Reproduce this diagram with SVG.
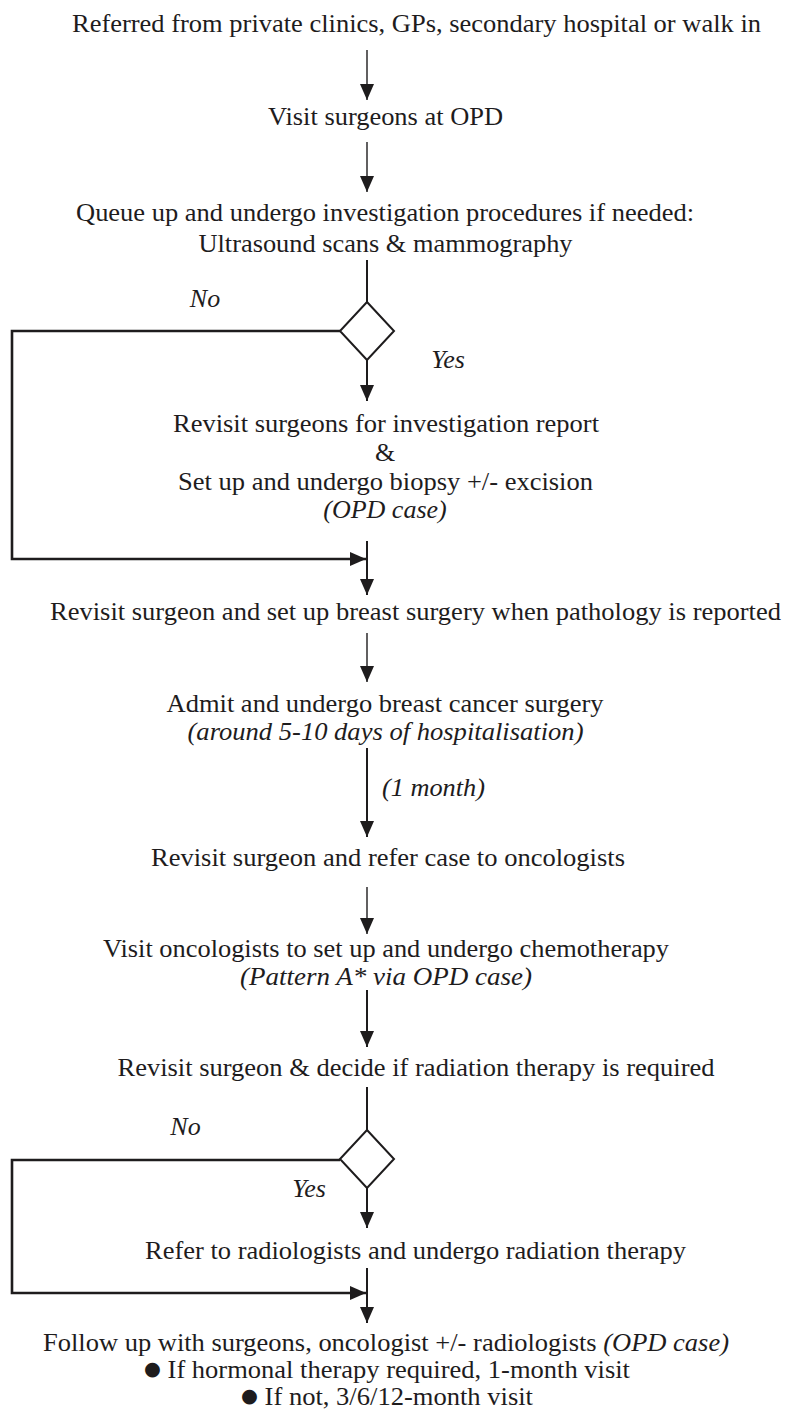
<svg xmlns="http://www.w3.org/2000/svg" width="788" height="1414" viewBox="0 0 788 1414">
  <style>
    text { font-family: "Liberation Serif", "Times New Roman", serif; font-size: 26px; fill: #1e1c1d; text-anchor: middle; }
    .it { font-style: italic; }
    .thin { stroke: #1e1c1d; stroke-width: 1.4; fill: none; }
    .thick { stroke: #1e1c1d; stroke-width: 2; fill: none; }
    .loop { stroke: #1e1c1d; stroke-width: 2.6; fill: none; }
    .dia { stroke: #1e1c1d; stroke-width: 2; fill: #ffffff; }
    .bullet { font-family: "DejaVu Sans", sans-serif; font-size: 19px; }
  </style>
  <defs>
    <marker id="arrow" markerUnits="userSpaceOnUse" markerWidth="17" markerHeight="16" refX="16" refY="7" orient="auto">
      <path d="M0,0 L16,7 L0,14 Z" fill="#1e1c1d"/>
    </marker>
  </defs>

  <rect width="788" height="1414" fill="#ffffff"/>

  <!-- connectors -->
  <g id="connectors">
    <line class="thin" x1="367" y1="50" x2="367" y2="100" marker-end="url(#arrow)"/>
    <line class="thin" x1="367" y1="142" x2="367" y2="192" marker-end="url(#arrow)"/>
    <line class="thick" x1="367" y1="260" x2="367" y2="302"/>
    <line class="thick" x1="367" y1="360" x2="367" y2="401" marker-end="url(#arrow)"/>
    <polyline class="loop" points="340,331 12,331 12,559 366,559" marker-end="url(#arrow)"/>
    <line class="thick" x1="367" y1="541" x2="367" y2="595" marker-end="url(#arrow)"/>
    <line class="thin" x1="367" y1="633" x2="367" y2="682" marker-end="url(#arrow)"/>
    <line class="thick" x1="367" y1="748" x2="367" y2="837" marker-end="url(#arrow)"/>
    <line class="thin" x1="367" y1="887" x2="367" y2="934" marker-end="url(#arrow)"/>
    <line class="thick" x1="367" y1="990" x2="367" y2="1047" marker-end="url(#arrow)"/>
    <line class="thick" x1="367" y1="1087" x2="367" y2="1130"/>
    <line class="thick" x1="367" y1="1188" x2="367" y2="1228" marker-end="url(#arrow)"/>
    <polyline class="loop" points="340,1160 12,1160 12,1293 366,1293" marker-end="url(#arrow)"/>
    <line class="thick" x1="367" y1="1268" x2="367" y2="1323" marker-end="url(#arrow)"/>
  </g>

  <g id="referral">
    <text x="416.5" y="32" textLength="689" lengthAdjust="spacingAndGlyphs">Referred from private clinics, GPs, secondary hospital or walk in</text>
  </g>
  <g id="visit-opd">
    <text x="385.5" y="125" textLength="235" lengthAdjust="spacingAndGlyphs">Visit surgeons at OPD</text>
  </g>
  <g id="investigation">
    <text x="385" y="221" textLength="618" lengthAdjust="spacingAndGlyphs">Queue up and undergo investigation procedures if needed:</text>
    <text x="385.5" y="252" textLength="374" lengthAdjust="spacingAndGlyphs">Ultrasound scans &amp; mammography</text>
  </g>
  <g id="decision-biopsy">
    <polygon class="dia" points="367,302 394,331 367,360 340,331"/>
    <text class="it" x="205" y="307">No</text>
    <text class="it" x="448" y="368">Yes</text>
  </g>
  <g id="biopsy">
    <text x="386" y="432" textLength="426" lengthAdjust="spacingAndGlyphs">Revisit surgeons for investigation report</text>
    <text x="385" y="461">&amp;</text>
    <text x="385.5" y="490" textLength="415" lengthAdjust="spacingAndGlyphs">Set up and undergo biopsy +/- excision</text>
    <text class="it" x="385" y="518">(OPD case)</text>
  </g>
  <g id="setup-surgery">
    <text x="415.5" y="620" textLength="731" lengthAdjust="spacingAndGlyphs">Revisit surgeon and set up breast surgery when pathology is reported</text>
  </g>
  <g id="surgery">
    <text x="385" y="712" textLength="437" lengthAdjust="spacingAndGlyphs">Admit and undergo breast cancer surgery</text>
    <text class="it" x="385.5" y="740" textLength="396" lengthAdjust="spacingAndGlyphs">(around 5-10 days of hospitalisation)</text>
  </g>
  <g id="interval">
    <text class="it" x="433.5" y="796" textLength="103" lengthAdjust="spacingAndGlyphs">(1 month)</text>
  </g>
  <g id="refer-oncology">
    <text x="388" y="866" textLength="474" lengthAdjust="spacingAndGlyphs">Revisit surgeon and refer case to oncologists</text>
  </g>
  <g id="chemotherapy">
    <text x="386" y="957" textLength="566" lengthAdjust="spacingAndGlyphs">Visit oncologists to set up and undergo chemotherapy</text>
    <text class="it" x="386" y="985" textLength="292" lengthAdjust="spacingAndGlyphs">(Pattern A* via OPD case)</text>
  </g>
  <g id="radiation-decision">
    <text x="416" y="1076" textLength="597" lengthAdjust="spacingAndGlyphs">Revisit surgeon &amp; decide if radiation therapy is required</text>
    <polygon class="dia" points="367,1130 394,1159 367,1188 340,1159"/>
    <text class="it" x="185.5" y="1135">No</text>
    <text class="it" x="309" y="1197">Yes</text>
  </g>
  <g id="radiation">
    <text x="415.5" y="1259" textLength="541" lengthAdjust="spacingAndGlyphs">Refer to radiologists and undergo radiation therapy</text>
  </g>
  <g id="follow-up">
    <text x="386" y="1351" textLength="686" lengthAdjust="spacingAndGlyphs">Follow up with surgeons, oncologist +/- radiologists <tspan class="it">(OPD case)</tspan></text>
    <text x="387" y="1378" textLength="486" lengthAdjust="spacingAndGlyphs"><tspan class="bullet" dy="-3">●</tspan><tspan dy="3"> If hormonal therapy required, 1-month visit</tspan></text>
    <text x="387" y="1405" textLength="292" lengthAdjust="spacingAndGlyphs"><tspan class="bullet" dy="-3">●</tspan><tspan dy="3"> If not, 3/6/12-month visit</tspan></text>
  </g>
</svg>
